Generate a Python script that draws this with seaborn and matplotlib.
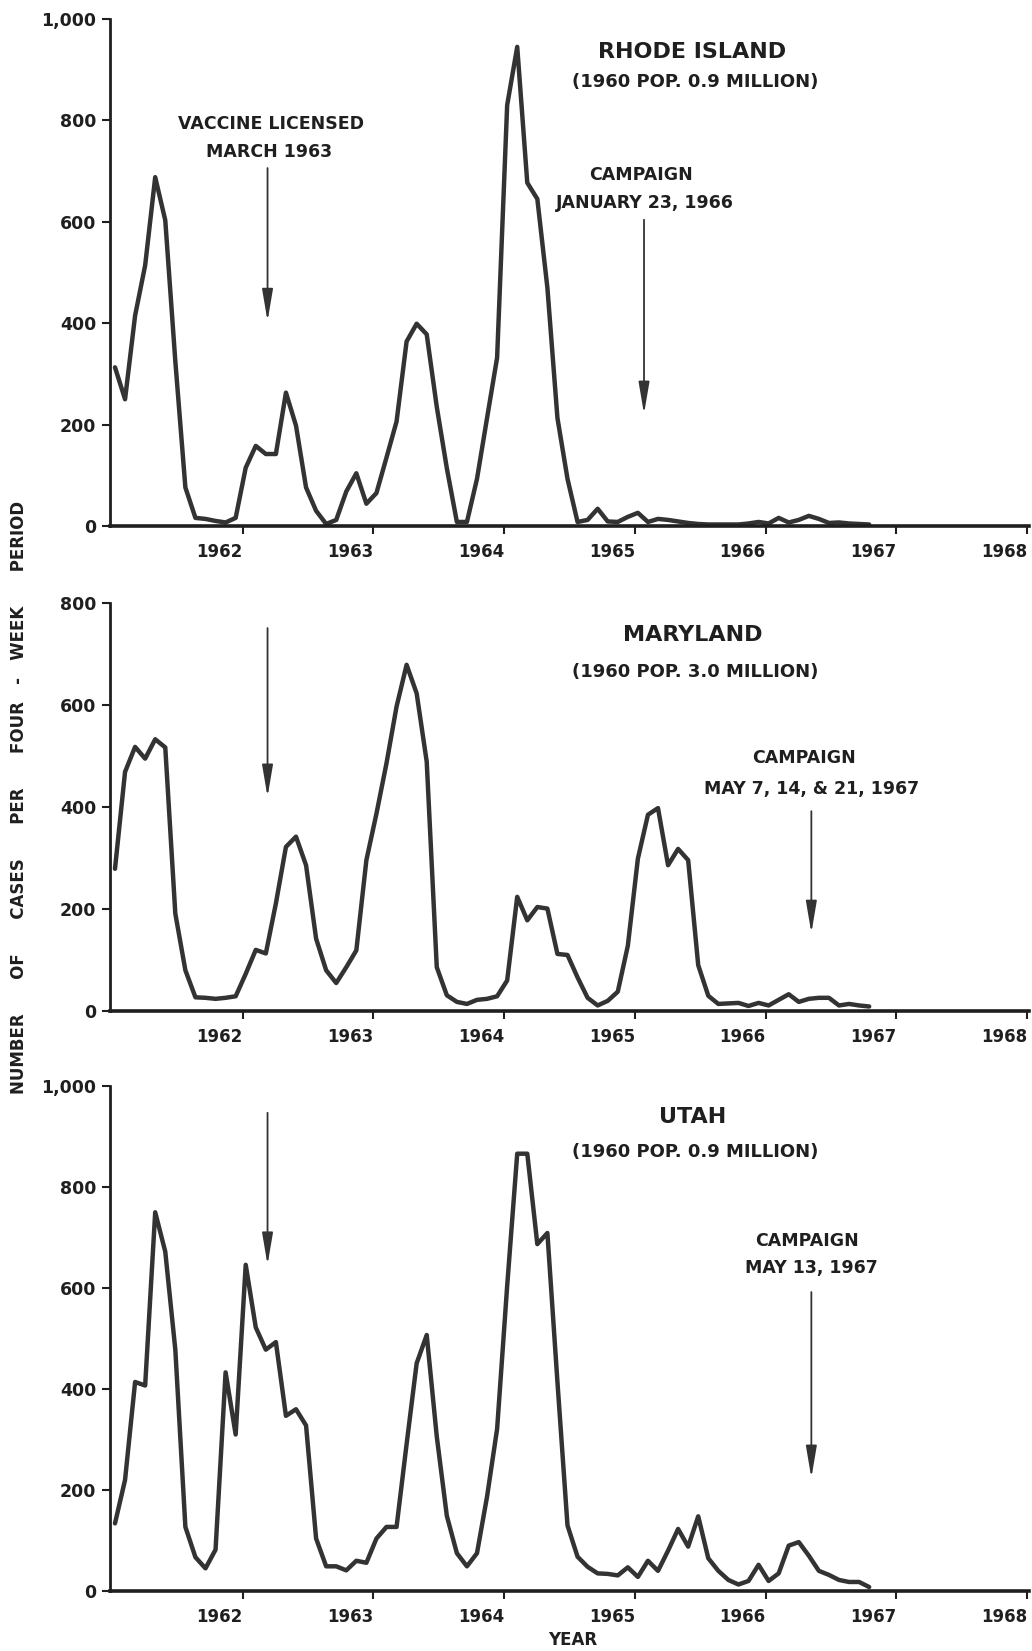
import numpy as np
import matplotlib
matplotlib.use("Agg")
import matplotlib.pyplot as plt
import seaborn as sns

sns.set_theme(style="ticks")
plt.rcParams['font.family'] = ['DejaVu Sans']

# four-week periods starting January 1962
period = np.arange(76)

ri_cases = [313, 250, 415, 514, 688, 603, 325, 76, 16, 14, 10, 7, 16,
            115, 158, 142, 142, 263, 198, 76, 30, 4, 12, 68, 104, 44,
            65, 135, 206, 364, 399, 378, 235, 114, 8, 8, 93, 213, 332,
            830, 945, 677, 645, 470, 213, 93, 8, 12, 34, 9, 8, 18,
            26, 8, 14, 12, 9, 6, 4, 3, 3, 3, 3, 5, 8,
            5, 16, 7, 12, 20, 14, 6, 7, 5, 4, 3]

md_cases = [279, 469, 518, 495, 533, 517, 191, 80, 27, 26, 24, 26, 29,
            73, 120, 113, 211, 322, 342, 286, 142, 80, 55, 86, 119, 296,
            387, 486, 597, 679, 623, 489, 86, 31, 18, 14, 22, 24, 29,
            60, 224, 178, 204, 201, 112, 110, 66, 26, 11, 20, 38, 128,
            299, 385, 398, 286, 318, 296, 90, 30, 14, 15, 16, 10, 16,
            11, 22, 33, 18, 24, 26, 26, 11, 14, 11, 9]

ut_cases = [134, 220, 414, 407, 750, 672, 478, 127, 67, 45, 82, 433, 310,
            646, 522, 478, 493, 347, 360, 328, 104, 49, 49, 41, 60, 56,
            104, 127, 127, 291, 451, 507, 306, 149, 75, 49, 75, 187, 321,
            604, 866, 866, 687, 709, 414, 130, 68, 48, 35, 34, 31, 47,
            28, 60, 40, 80, 123, 88, 148, 65, 40, 22, 13, 20, 52,
            20, 35, 90, 97, 70, 40, 32, 22, 18, 18, 8]

# each year label sits at the end of its year
year_ticks = [1963, 1964, 1965, 1966, 1967, 1968, 1969]
year_labels = ['1962', '1963', '1964', '1965', '1966', '1967', '1968']

states = ['RHODE ISLAND', 'MARYLAND', 'UTAH']
populations = ['(1960 POP. 0.9 MILLION)', '(1960 POP. 3.0 MILLION)',
               '(1960 POP. 0.9 MILLION)']
y_max = [1000, 800, 1000]
vaccine_date = 1963.19
campaign_dates = [1966.07, 1967.35, 1967.35]
campaign_text = ['JANUARY 23, 1966', 'MAY 7, 14, & 21, 1967', 'MAY 13, 1967']

years = 1962 + (period + 0.3) / 13

LINE = '#333333'
INK = '#1f1f1f'

fig = plt.figure(figsize=(10.32, 16.51), dpi=100)
rects = [[0.1066, 0.6814, 0.8905, 0.3071],
         [0.1066, 0.3876, 0.8905, 0.2471],
         [0.1066, 0.0363, 0.8905, 0.3059]]
axes = [fig.add_axes(r) for r in rects]

series = [ri_cases, md_cases, ut_cases]

# annotation placement (data units) per panel
title_y = [(935, 876), (737, 665), (939, 869)]
vacc_arrow = [(706, 404), (751, 420), (947, 646)]
camp_arrow = [(604, 221), (392, 153), (592, 224)]
camp_text_y = [(692, 637), (496, 435), (693, 640)]
camp_text_x = [(1966.05, 1966.08), (1967.29, 1967.35), (1967.32, 1967.35)]

arrow_style = dict(arrowstyle='-|>,head_length=1.3,head_width=0.22',
                   color=LINE, lw=1.3, shrinkA=0, shrinkB=0, mutation_scale=15)

for i, ax in enumerate(axes):
    sns.lineplot(x=years, y=series[i], ax=ax, color=LINE, linewidth=3.2,
                 clip_on=False)
    ax.set_xlim(1961.985, 1969.015)
    ax.set_ylim(0, y_max[i])
    yt = list(range(0, y_max[i] + 1, 200))
    ax.set_yticks(yt, labels=[f"{t:,}" for t in yt], fontweight='bold',
                  fontsize=12.5, color=INK)
    ax.set_xticks(year_ticks, labels=year_labels, fontweight='bold',
                  fontsize=12, ha='right', color=INK)
    ax.tick_params(axis='both', direction='out', length=6, width=1.5,
                   colors=INK)
    ax.tick_params(axis='x', pad=6)
    ax.tick_params(axis='y', pad=4)
    ax.spines[['top', 'right']].set_visible(False)
    ax.spines['left'].set_linewidth(2)
    ax.spines['bottom'].set_linewidth(2.6)
    ax.spines['left'].set_color(INK)
    ax.spines['bottom'].set_color(INK)
    ax.set_xlabel('')
    ax.set_ylabel('')

    ax.text(1966.44, title_y[i][0], states[i], ha='center', va='center',
            fontsize=16, fontweight='bold', color=INK)
    ax.text(1966.46, title_y[i][1], populations[i], ha='center', va='center',
            fontsize=13, fontweight='bold', color=INK)

    ax.annotate('', xy=(vaccine_date, vacc_arrow[i][1]),
                xytext=(vaccine_date, vacc_arrow[i][0]), arrowprops=arrow_style)
    ax.annotate('', xy=(campaign_dates[i], camp_arrow[i][1]),
                xytext=(campaign_dates[i], camp_arrow[i][0]), arrowprops=arrow_style)
    ax.text(camp_text_x[i][0], camp_text_y[i][0], 'CAMPAIGN', ha='center',
            va='center', fontsize=12.5, fontweight='bold', color=INK)
    ax.text(camp_text_x[i][1], camp_text_y[i][1], campaign_text[i], ha='center',
            va='center', fontsize=12.5, fontweight='bold', color=INK)

axes[0].text(1963.22, 793, 'VACCINE LICENSED', ha='center', va='center',
             fontsize=12.5, fontweight='bold', color=INK)
axes[0].text(1963.20, 738, 'MARCH 1963', ha='center', va='center',
             fontsize=12.5, fontweight='bold', color=INK)

fig.text(0.0184, 1 - 797 / 1651,
         'NUMBER      OF      CASES      PER      FOUR   -   WEEK      PERIOD',
         rotation=90, ha='center', va='center', fontsize=12,
         fontweight='bold', color=INK)
fig.text(573 / 1032, 1 - 1640 / 1651, 'YEAR', ha='center', va='center',
         fontsize=12, fontweight='bold', color=INK)

fig.savefig('out.png', dpi=100)
